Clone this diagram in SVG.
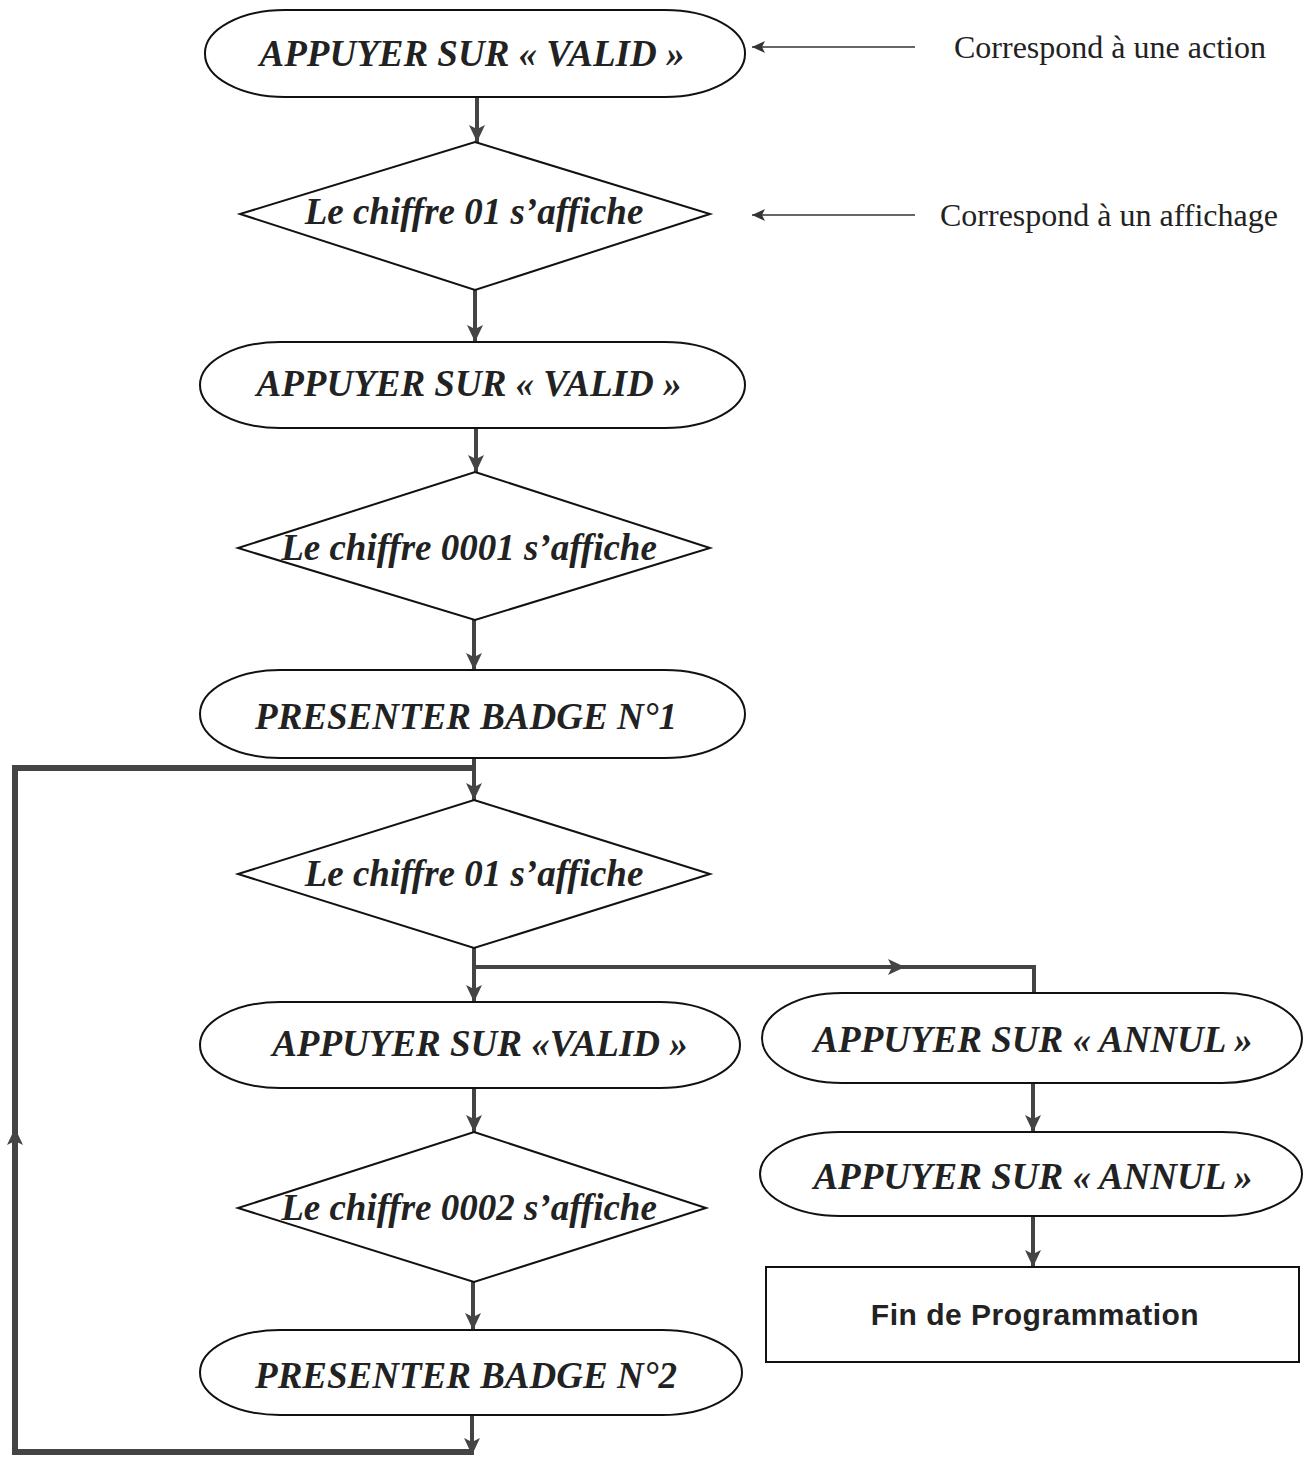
<svg xmlns="http://www.w3.org/2000/svg" width="1305" height="1459" viewBox="0 0 1305 1459">
<style>
.shape{fill:#fff;stroke:#111;stroke-width:2}
.lbl{font-family:"Liberation Serif","Times New Roman",serif;font-style:italic;font-weight:bold;font-size:37px;fill:#222;text-anchor:middle}
.leg{font-family:"Liberation Serif","Times New Roman",serif;font-size:32px;fill:#222}
.fin{font-family:"Liberation Sans",Arial,sans-serif;font-weight:bold;font-size:30px;fill:#222;text-anchor:middle;letter-spacing:0.5px}
.con{fill:none;stroke:#444;stroke-width:4}
.loop{fill:none;stroke:#444;stroke-width:6}
.thin{fill:none;stroke:#333;stroke-width:1.5}
</style>
<defs>
<marker id="ah" markerUnits="userSpaceOnUse" markerWidth="18" markerHeight="16" refX="17" refY="8" orient="auto">
<path d="M0,0 L17,8 L0,16 L4,8 z" fill="#444"/>
</marker>
<marker id="ahs" markerUnits="userSpaceOnUse" markerWidth="14" markerHeight="12" refX="13" refY="6" orient="auto">
<path d="M0,0 L13,6 L0,12 L3,6 z" fill="#333"/>
</marker>
</defs>

<g id="connectors">
<line class="con" x1="477" y1="97" x2="477" y2="142" marker-end="url(#ah)"/>
<line class="con" x1="475" y1="290" x2="475" y2="342" marker-end="url(#ah)"/>
<line class="con" x1="476" y1="428" x2="476" y2="472" marker-end="url(#ah)"/>
<line class="con" x1="474" y1="620" x2="474" y2="670" marker-end="url(#ah)"/>
<line class="con" x1="474" y1="758" x2="474" y2="800" marker-end="url(#ah)"/>
<line class="con" x1="474" y1="948" x2="474" y2="1002" marker-end="url(#ah)"/>
<path class="con" d="M474,967 L905,967"  marker-end="url(#ah)"/>
<path class="con" d="M900,967 L1034,967 L1034,993"/>
<line class="con" x1="1033" y1="1083" x2="1033" y2="1132" marker-end="url(#ah)"/>
<line class="con" x1="1033" y1="1216" x2="1033" y2="1267" marker-end="url(#ah)"/>
<line class="con" x1="474" y1="1088" x2="474" y2="1132" marker-end="url(#ah)"/>
<line class="con" x1="473" y1="1282" x2="473" y2="1330" marker-end="url(#ah)"/>
<line class="con" x1="472" y1="1415" x2="472" y2="1455" marker-end="url(#ah)"/>
<path class="loop" d="M472,1452 L15,1452 L15,1128" marker-end="url(#ah)"/>
<path class="loop" d="M15,1135 L15,768 L476,768"/>
<line class="thin" x1="915" y1="47" x2="752" y2="47" marker-end="url(#ahs)"/>
<line class="thin" x1="915" y1="215" x2="752" y2="215" marker-end="url(#ahs)"/>
</g>

<g id="n1"><rect class="shape" x="205" y="10" width="540" height="87" rx="80" ry="43"/><text class="lbl" x="472" y="66">APPUYER SUR « VALID »</text></g>
<g id="n2"><polygon class="shape" points="475,142 710,214 475,290 240,214"/><text class="lbl" x="474" y="224">Le chiffre 01 s’affiche</text></g>
<g id="n3"><rect class="shape" x="200" y="342" width="545" height="86" rx="80" ry="43"/><text class="lbl" x="469" y="396">APPUYER SUR « VALID »</text></g>
<g id="n4"><polygon class="shape" points="475,472 710,548 475,620 238,548"/><text class="lbl" x="469" y="560">Le chiffre 0001 s’affiche</text></g>
<g id="n5"><rect class="shape" x="200" y="670" width="545" height="88" rx="80" ry="44"/><text class="lbl" x="466" y="729">PRESENTER BADGE N°1</text></g>
<g id="n6"><polygon class="shape" points="474,800 710,874 474,948 238,874"/><text class="lbl" x="474" y="886">Le chiffre 01 s’affiche</text></g>
<g id="n7"><rect class="shape" x="200" y="1002" width="540" height="86" rx="80" ry="43"/><text class="lbl" x="480" y="1056">APPUYER SUR «VALID »</text></g>
<g id="n8"><rect class="shape" x="762" y="993" width="540" height="90" rx="80" ry="45"/><text class="lbl" x="1033" y="1052">APPUYER SUR « ANNUL »</text></g>
<g id="n9"><polygon class="shape" points="474,1132 706,1208 474,1282 238,1208"/><text class="lbl" x="469" y="1220">Le chiffre 0002 s’affiche</text></g>
<g id="n10"><rect class="shape" x="200" y="1330" width="542" height="85" rx="80" ry="43"/><text class="lbl" x="466" y="1388">PRESENTER BADGE N°2</text></g>
<g id="n11"><rect class="shape" x="760" y="1132" width="542" height="84" rx="80" ry="42"/><text class="lbl" x="1033" y="1189">APPUYER SUR « ANNUL »</text></g>
<g id="n12"><rect class="shape" x="766" y="1267" width="533" height="95"/><text class="fin" x="1035" y="1325">Fin de Programmation</text></g>
<g id="legend">
<text class="leg" x="954" y="58">Correspond à une action</text>
<text class="leg" x="940" y="226">Correspond à un affichage</text>
</g>
</svg>
